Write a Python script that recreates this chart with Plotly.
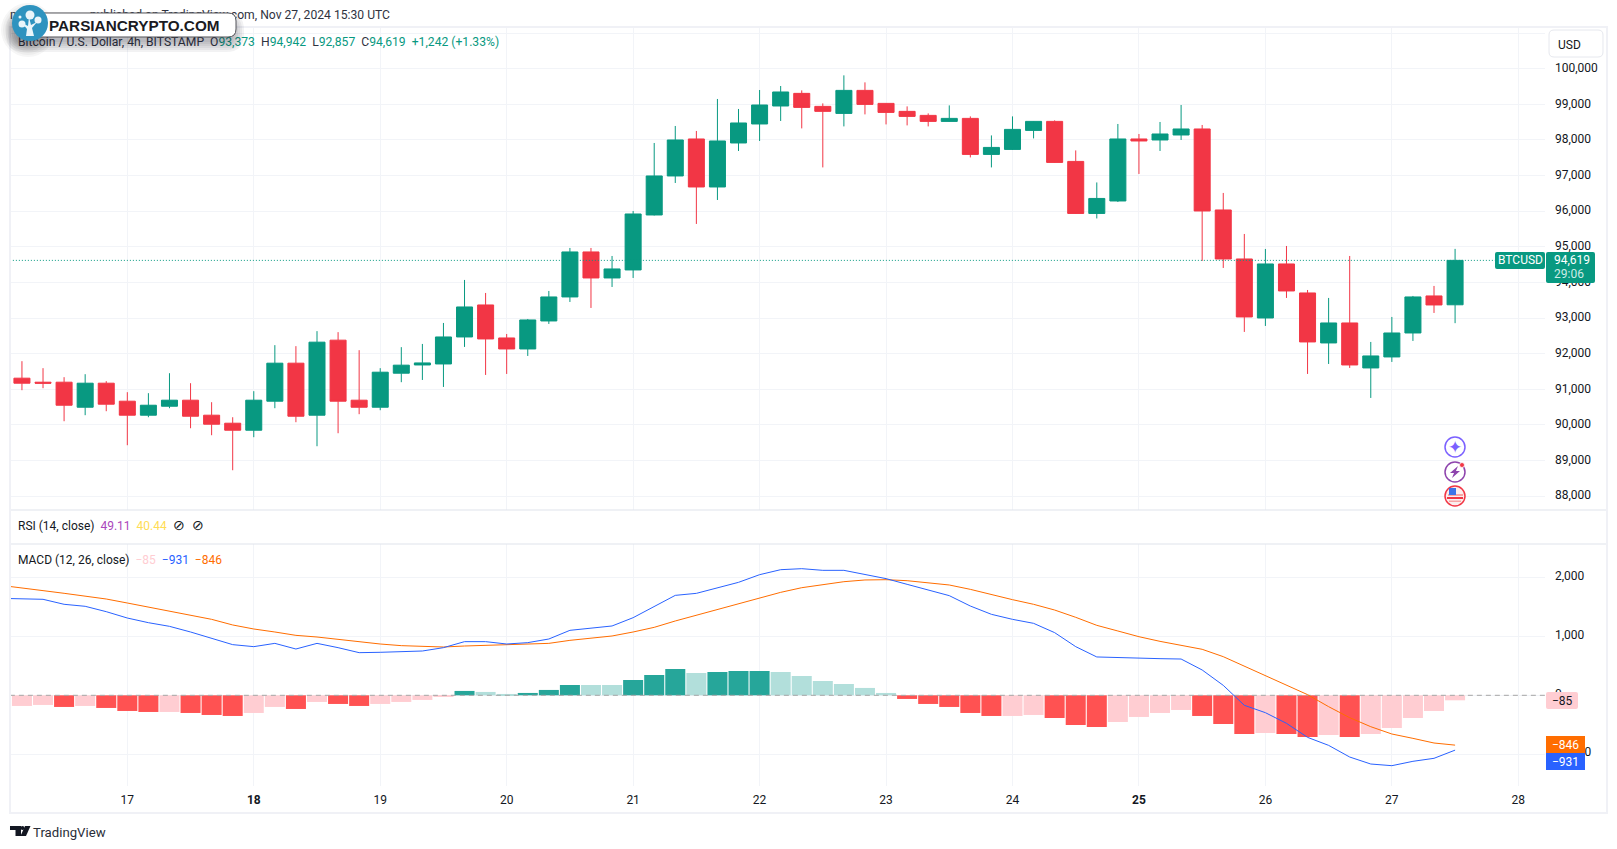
import pandas as pd
import plotly.graph_objects as go

W, H = 1617, 849
FONT = "Roboto"

# ---- data ----
opens = [91313,91200,91200,90498,91172,90667,90274,90526,90695,90274,90049,89852,90667,91734,90274,92380,90695,90498,91453,
         91684,91712,92470,93368,92442,92133,92919,93593,94856,94126,94351,95894,96989,98027,96680,97915,98448,98953,
         99307,98942,98745,99391,99026,98802,98689,98521,98605,97594,97734,98268,98521,97397,95937,
         96287,98027,97999,98139,98308,96034,94659,93003,94519,93705,92302,92863,91600,91909,92582,93621,93373]
highs = [91790,91594,91341,91425,91229,90920,90892,91453,91172,90639,90217,90948,92240,92212,92633,92605,92099,91594,92184,
         92274,92863,94070,93705,92554,92975,93761,94968,94968,94743,96006,97915,98392,98252,99150,98869,99402,99514,
         99391,99026,99813,99616,99030,98942,98745,98970,98661,98127,98661,98530,98549,97706,96807,
         98448,98167,98504,98981,98420,96512,95361,94940,95024,93789,93565,94743,92330,93032,93621,93902,94942]
lows = [90976,91032,90105,90274,90386,89431,90217,90470,89908,89712,88729,89656,90470,90077,89403,89768,90302,90414,91200,
        91263,91067,92190,91404,91432,91937,92835,93452,93284,93873,94126,95880,96792,95642,96315,97690,97971,98532,
        98324,97229,98380,98717,98436,98408,98380,98510,97509,97229,97720,98043,97360,95925,95796,
        96259,97045,97690,97999,94603,94407,92611,92779,93565,91432,91712,91600,90758,91769,92358,93144,92857]
closes = [91172,91172,90554,91172,90583,90274,90554,90695,90245,90021,89852,90695,91734,90245,92324,90667,90498,91481,91678,
          91741,92470,93312,92414,92133,92947,93593,94856,94126,94379,95922,96989,97999,96680,97971,98476,98981,99346,
          98914,98802,99391,98998,98773,98661,98521,98605,97594,97790,98296,98521,97369,95937,96358,
          98027,97971,98167,98308,96006,94659,93032,94519,93761,92330,92863,91684,91937,92582,93593,93368,94619]

# MACD pane: one more bar on the left, just cut by the pane edge
hist = [-220,-181,-164,-198,-181,-215,-266,-283,-283,-300,-334,-351,-300,-198,-232,-113,-147,-181,-147,-113,-79,-28,
        74,57,23,40,91,175,175,175,260,345,447,379,396,413,413,396,328,243,192,125,40,
        -62,-147,-198,-300,-351,-351,-334,-385,-504,-538,-453,-368,-300,-249,-351,-487,-657,-640,-657,-708,-674,-708,-657,-555,-385,-266,-85]
hist_tone = list("l" "lldlddd" "lddd" "ll" "dl" "dd" "lll" "l" "dll" "ddd" "ll" "ddd" "l" "ddd" "lllll" "l" "ddddd" "ll" "ddd" "llll" "ddd" "l" "dd" "l" "d" "lllll")
macd = [1646,1641,1630,1545,1511,1420,1312,1233,1171,1075,973,860,826,882,786,882,809,724,730,747,752,809,911,911,871,894,956,
        1103,1137,1177,1318,1505,1697,1731,1827,1918,2048,2133,2150,2122,2122,2054,1981,1884,1788,1692,1516,1375,1290,1222,1064,
        826,651,639,628,622,616,430,169,-170,-295,-476,-714,-850,-1048,-1167,-1195,-1121,-1070,-931]
signal = [1867,1816,1777,1732,1686,1635,1567,1499,1437,1369,1290,1194,1126,1075,1018,990,950,905,871,843,826,820,837,848,860,865,882,
          933,973,1007,1075,1154,1262,1358,1460,1556,1652,1748,1827,1879,1929,1958,1963,1946,1912,1873,1799,1709,1624,1545,1448,
          1324,1188,1092,995,916,854,781,656,497,328,169,11,-193,-380,-533,-657,-731,-810,-846]

price_ticks = [88000,89000,90000,91000,92000,93000,94000,95000,96000,97000,98000,99000,100000,101000]
price_labels = ["88,000","89,000","90,000","91,000","92,000","93,000","94,000","95,000","96,000","97,000","98,000","99,000","100,000",""]
macd_ticks = [-1000,0,1000,2000]
macd_labels = ["\u22121,000","0","1,000","2,000"]
day_ticks = ["2024-11-%d" % d for d in range(17, 29)]
day_labels = ["17","<b>18</b>","19","20","21","22","23","24","<b>25</b>","26","27","28"]
LAST_CLOSE = 94619

macd_times = pd.date_range("2024-11-16 00:00", periods=len(macd), freq="4h")
candle_times = macd_times[1:]

UP, DOWN = "#089981", "#F23645"
tone_colors = []
for v, t in zip(hist, hist_tone):
    if v >= 0:
        tone_colors.append("#26A69A" if t == "d" else "#B2DFDB")
    else:
        tone_colors.append("#FF5252" if t == "d" else "#FFCDD2")


def px(x):
    return x / W


def py(y):
    return 1 - y / H


fig = go.Figure()
fig.add_trace(go.Bar(x=macd_times, y=hist, marker=dict(color=tone_colors, line=dict(width=0)),
                     xaxis="x2", yaxis="y2", showlegend=False))
fig.add_trace(go.Scatter(x=[macd_times[0], pd.Timestamp("2024-11-29")], y=[0, 0], mode="lines",
                         line=dict(color="#A6A6A6", width=1, dash="5px,4px"),
                         xaxis="x2", yaxis="y2", showlegend=False))
fig.add_trace(go.Scatter(x=macd_times, y=signal, mode="lines", line=dict(color="#FF6D00", width=1),
                         xaxis="x2", yaxis="y2", showlegend=False))
fig.add_trace(go.Scatter(x=macd_times, y=macd, mode="lines", line=dict(color="#2962FF", width=1),
                         xaxis="x2", yaxis="y2", showlegend=False))
fig.add_trace(go.Scatter(x=[macd_times[0], pd.Timestamp("2024-11-29")], y=[LAST_CLOSE, LAST_CLOSE], mode="lines",
                         line=dict(color=UP, width=1, dash="1px,2px"),
                         xaxis="x", yaxis="y", showlegend=False))
fig.add_trace(go.Candlestick(x=candle_times, open=opens, high=highs, low=lows, close=closes,
                             increasing=dict(line=dict(color=UP, width=1), fillcolor=UP),
                             decreasing=dict(line=dict(color=DOWN, width=1), fillcolor=DOWN),
                             whiskerwidth=0, xaxis="x", yaxis="y", showlegend=False))

# page-wide overlay for the header lines, so the logo can lie over them
g = lambda s: '<span style="color:#089981">%s</span>' % s
SP = "\u00a0\u00a0"
header_lines = ["m", "published on TradingView.com, Nov 27, 2024 15:30 UTC",
                "Bitcoin / U.S. Dollar, 4h, BITSTAMP" + SP + "O" + g("93,373") + SP + "H" + g("94,942") + SP + "L" + g("92,857") + SP + "C" + g("94,619")
                + SP + g("+1,242 (+1.33%)")]
fig.add_trace(go.Scatter(x=[10, 390, 18], y=[15.5, 15.5, 42.5], mode="text", text=header_lines,
                         textposition=["middle right", "middle left", "middle right"],
                         textfont=dict(family=FONT, size=12.15, color="#2f333f"),
                         xaxis="x3", yaxis="y3", showlegend=False, hoverinfo="skip"))

GRID = "#F2F4F8"
xr = ["2024-11-16 01:44", "2024-11-28 05:04"]
tickfont = dict(family=FONT, size=12, color="#131722")
fig.update_layout(
    width=W, height=H, margin=dict(l=0, r=0, t=0, b=0), autosize=False,
    paper_bgcolor="white", plot_bgcolor="rgba(0,0,0,0)", showlegend=False,
    barmode="overlay", bargap=0.05, boxgap=0.24, boxgroupgap=0,
    xaxis=dict(domain=[px(10), px(1545)], anchor="y", range=xr, type="date", tickvals=day_ticks, showticklabels=False,
               showgrid=True, gridcolor=GRID, gridwidth=1, rangeslider=dict(visible=False), zeroline=False, ticks=""),
    yaxis=dict(domain=[py(510), py(27)], anchor="x", side="right", range=[87613, 101170], tickvals=price_ticks,
               ticktext=price_labels, showgrid=True, gridcolor=GRID, zeroline=False, tickfont=tickfont,
               ticks="", ticklabelstandoff=9, ticklabelshift=-1),
    xaxis2=dict(domain=[px(10), px(1545)], anchor="y2", matches="x", type="date", tickvals=day_ticks, ticktext=day_labels,
                showgrid=True, gridcolor=GRID, zeroline=False, tickfont=tickfont, ticks="", ticklabelstandoff=5, tickangle=0),
    yaxis2=dict(domain=[py(786), py(544)], anchor="x2", side="right", range=[-1540, 2569], tickvals=macd_ticks,
                ticktext=macd_labels, showgrid=True, gridcolor=GRID, zeroline=False, tickfont=tickfont,
                ticks="", ticklabelstandoff=9, ticklabelshift=-2),
    xaxis3=dict(domain=[0, 1], anchor="y3", range=[0, W], visible=False, fixedrange=True),
    yaxis3=dict(domain=[0, 1], anchor="x3", range=[H, 0], visible=False, fixedrange=True),
)

shapes = []
ann = []


def rect(x0, y0, x1, y1, fill, line=None, lw=0):
    shapes.append(dict(type="rect", xref="paper", yref="paper", x0=px(x0), x1=px(x1), y0=py(y0), y1=py(y1),
                       fillcolor=fill, line=dict(color=line or fill, width=lw), layer="above"))


def rrect(x0, y0, x1, y1, r, fill, line=None, lw=0):
    p = lambda a, b: "%.5f,%.5f" % (px(a), py(b))
    d = ("M " + p(x0 + r, y0) + " L " + p(x1 - r, y0) + " Q " + p(x1, y0) + " " + p(x1, y0 + r) + " L " + p(x1, y1 - r)
         + " Q " + p(x1, y1) + " " + p(x1 - r, y1) + " L " + p(x0 + r, y1) + " Q " + p(x0, y1) + " " + p(x0, y1 - r)
         + " L " + p(x0, y0 + r) + " Q " + p(x0, y0) + " " + p(x0 + r, y0) + " Z")
    shapes.append(dict(type="path", xref="paper", yref="paper", path=d, fillcolor=fill,
                       line=dict(color=line or "rgba(0,0,0,0)", width=lw), layer="above"))


def circle(cx, cy, r, fill, line=None, lw=0):
    shapes.append(dict(type="circle", xref="paper", yref="paper", x0=px(cx - r), x1=px(cx + r), y0=py(cy - r), y1=py(cy + r),
                       fillcolor=fill, line=dict(color=line or fill, width=lw), layer="above"))


def path(points, fill):
    d = "M " + " L ".join("%.5f,%.5f" % (px(a), py(b)) for a, b in points) + " Z"
    shapes.append(dict(type="path", xref="paper", yref="paper", path=d, fillcolor=fill, line=dict(color=fill, width=0), layer="above"))


def text(x, y, s, size=12, color="#131722", anchor="left", family=FONT):
    ann.append(dict(xref="paper", yref="paper", x=px(x), y=py(y), text=s, showarrow=False, xanchor=anchor, yanchor="middle",
                    align=anchor, font=dict(family=family, size=size, color=color), borderpad=0, borderwidth=0))


# frame and pane separators
FRAME = "#F0F1F6"
rect(9, 26, 11, 814, FRAME)
rect(9, 26, 1608, 28, FRAME)
rect(1606, 26, 1608, 814, FRAME)
rect(9, 812, 1608, 814, FRAME)
rect(11, 509.5, 1606, 510.5, "#E0E3EB")
rect(11, 543.5, 1606, 544.5, "#E0E3EB")

# logo shadow, pill, emblem
for grow in [10, 8, 6, 4, 2, 0]:
    rrect(16 - grow, 18 - grow + 4, 234 + grow, 38 + grow + 4, 8 + grow, "rgba(20,20,30,0.055)")
    circle(28, 30, 17 + grow, "rgba(20,20,30,0.04)")
rrect(32, 13, 236, 37, 8, "white", "#55555a", 1)
text(49, 25.5, "<b>PARSIANCRYPTO.COM</b>", 15.3, "#1b1b1f", "left", "Liberation Sans")
circle(30, 23, 18, "#2E93BF")
for cx, cy, r in [(30, 15, 4.5), (22, 24, 3.5), (38, 20, 3.5), (20, 17, 1.5)]:
    circle(cx, cy, r, "#EAF5FA")
path([(26, 36), (34, 36), (32, 28), (37, 22), (31, 25), (29, 17), (28, 26), (22, 23), (27, 29)], "#EAF5FA")

# study legends
text(18, 525, 'RSI (14, close)\u00a0\u00a0<span style="color:#AB47BC">49.11</span>\u00a0\u00a0<span style="color:#FFDD55">40.44</span>'
     '\u00a0\u00a0<span style="font-size:14px">\u2298\u00a0\u00a0\u2298</span>', 12)
text(18, 559.5, 'MACD (12, 26, close)  <span style="color:#FFCDD2">\u221285</span>  <span style="color:#2962FF">\u2212931</span>  <span style="color:#FF6D00">\u2212846</span>', 12)

# USD button
rrect(1549, 30, 1603, 57, 5, "white", "#E6E8EE", 1)
text(1558, 44.5, "USD", 12)

# last price tags
rrect(1495, 252, 1545, 269, 2, UP)
text(1520, 260.5, "BTCUSD", 12, "white", "center")
rrect(1546, 252, 1595, 283, 2, UP)
text(1554, 260.5, "94,619", 12, "white")
text(1554, 274, "29:06", 12, "#CDEBE6")

rrect(1546, 692, 1578, 709, 2, "#FFCDD2")
text(1562, 700.5, "\u221285", 12, "#131722", "center")
rect(1546, 736, 1585, 753, "#FF6D00")
text(1565.5, 744.5, "\u2212846", 12, "white", "center")
rect(1546, 753, 1585, 770, "#2962FF")
text(1565.5, 761.5, "\u2212931", 12, "white", "center")

# event icons
circle(1455, 447, 10, "white", "#7B61FF", 1.5)
text(1455, 447, "\u2726", 17, "#7B61FF", "center", "DejaVu Sans")
circle(1455, 472, 10, "white", "#8E44AD", 1.5)
path([(1458, 466), (1450, 473), (1454, 473), (1452, 478), (1460, 471), (1456, 471)], "#8E44AD")
circle(1462, 465, 2.5, "#F23645", "white", 0.8)
circle(1455, 496, 10, "#FBEDED", "#F23645", 1.5)
rect(1448, 494, 1463, 496, "#F6A5A5")
rect(1447, 497, 1463, 499, "#F23645")
rect(1449, 500.5, 1461, 502, "#F6A5A5")
rect(1449, 488, 1456, 495, "#3D73E8")

# TradingView mark and word
path([(10, 826), (21, 826), (21, 836), (15.5, 836), (15.5, 830), (10, 830)], "#131722")
circle(22.5, 828, 2, "#131722")
path([(25, 826), (30.5, 826), (26, 836), (20.5, 836)], "#131722")
text(33, 832, "TradingView", 13.2, "#2A2E39")

fig.update_layout(shapes=shapes, annotations=ann)
fig.write_html("out.html", config=dict(displayModeBar=False),
               post_script="document.body.style.margin='0';document.body.style.overflow='hidden';")
